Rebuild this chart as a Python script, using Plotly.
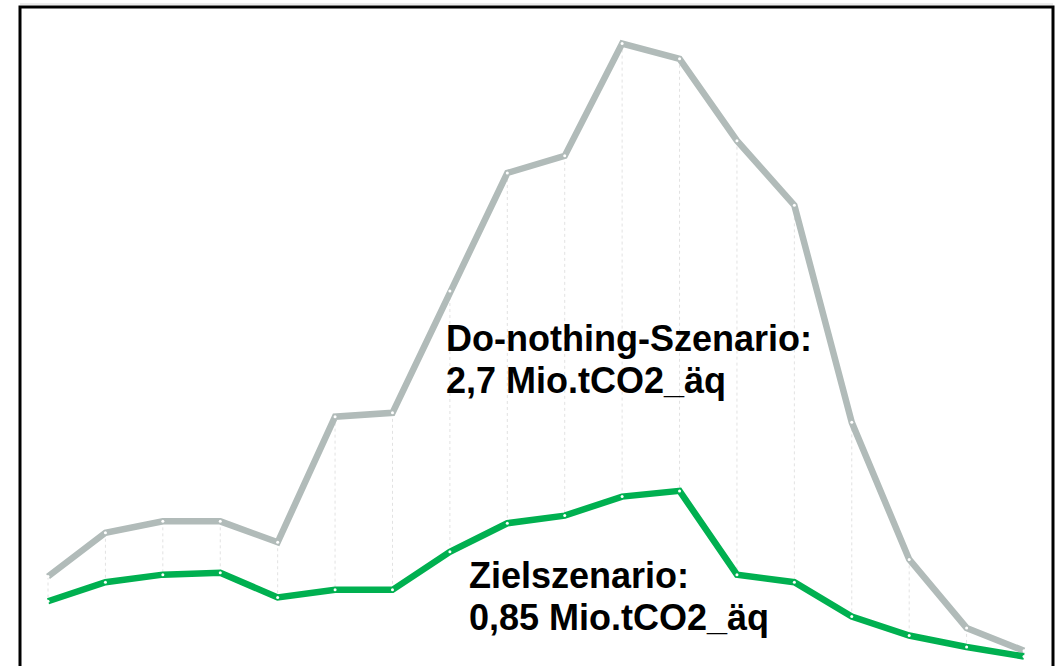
import plotly.graph_objects as go

# Annual emissions per period, kt CO2-äq
perioden = list(range(1, 19))
do_nothing = [47, 70, 76, 76, 65, 131, 133, 197, 259, 268, 327, 319, 276, 242, 128, 56, 20, 8]
zielszenario = [34, 44, 48, 49, 36, 40, 40, 60, 75, 79, 89, 92, 48, 44, 26, 16, 10, 5]

label_do_nothing = "Do-nothing-Szenario:<br>2,7 Mio.tCO2_äq"
label_ziel = "Zielszenario:<br>0,85 Mio.tCO2_äq"

GRAU = "#b1bbb9"
GRUEN = "#00b050"

# dotted connectors between both scenarios at every period
xs, ys = [], []
for p, a, b in zip(perioden, do_nothing, zielszenario):
    xs += [p, p, None]
    ys += [a, b, None]

fig = go.Figure()
fig.add_trace(go.Scatter(
    x=xs, y=ys, mode="lines",
    line=dict(color="#e2e2e2", width=1, dash="dot"),
    hoverinfo="skip", showlegend=False,
))
fig.add_trace(go.Scatter(
    x=perioden, y=do_nothing, mode="lines+markers", name="Do-nothing-Szenario",
    line=dict(color=GRAU, width=6.5),
    marker=dict(color="white", size=3, line=dict(width=0)),
    showlegend=False,
))
fig.add_trace(go.Scatter(
    x=perioden, y=zielszenario, mode="lines+markers", name="Zielszenario",
    line=dict(color=GRUEN, width=6.5),
    marker=dict(color="white", size=3, line=dict(width=0)),
    showlegend=False,
))

# labels, one annotation per text line for tighter line spacing
font = dict(family="Liberation Sans, Arial, sans-serif", size=36, color="black")
PLOT_H = 659


def add_label(text, x_paper, first_center_px, spacing_px=42):
    for i, line in enumerate(text.split("<br>")):
        center = first_center_px + i * spacing_px
        fig.add_annotation(
            text=f"<b>{line}</b>", xref="paper", yref="paper",
            x=x_paper, y=(666 - center) / PLOT_H,
            xanchor="left", yanchor="middle", align="left",
            showarrow=False, font=font,
        )


add_label(label_do_nothing, 0.410, 338)
add_label(label_ziel, 0.433, 575)

# frame (open at the bottom)
fig.add_shape(
    type="path", xref="paper", yref="paper",
    path="M 0 -0.1 L 0 1 L 1 1 L 1 -0.1",
    line=dict(color="black", width=3),
)
fig.add_shape(
    type="line", xref="paper", yref="paper",
    x0=0, x1=1, y0=1.0045, y1=1.0045,
    line=dict(color="#d9d9d9", width=1),
)

fig.update_layout(
    width=1061, height=666,
    margin=dict(l=20, r=8, t=7, b=0),
    paper_bgcolor="white", plot_bgcolor="white",
    xaxis=dict(range=[-0.488 + 1, 17.505 + 1], visible=False, showgrid=False, zeroline=False),
    yaxis=dict(range=[0, 346.2], visible=False, showgrid=False, zeroline=False),
)

fig.write_html("out.html")
